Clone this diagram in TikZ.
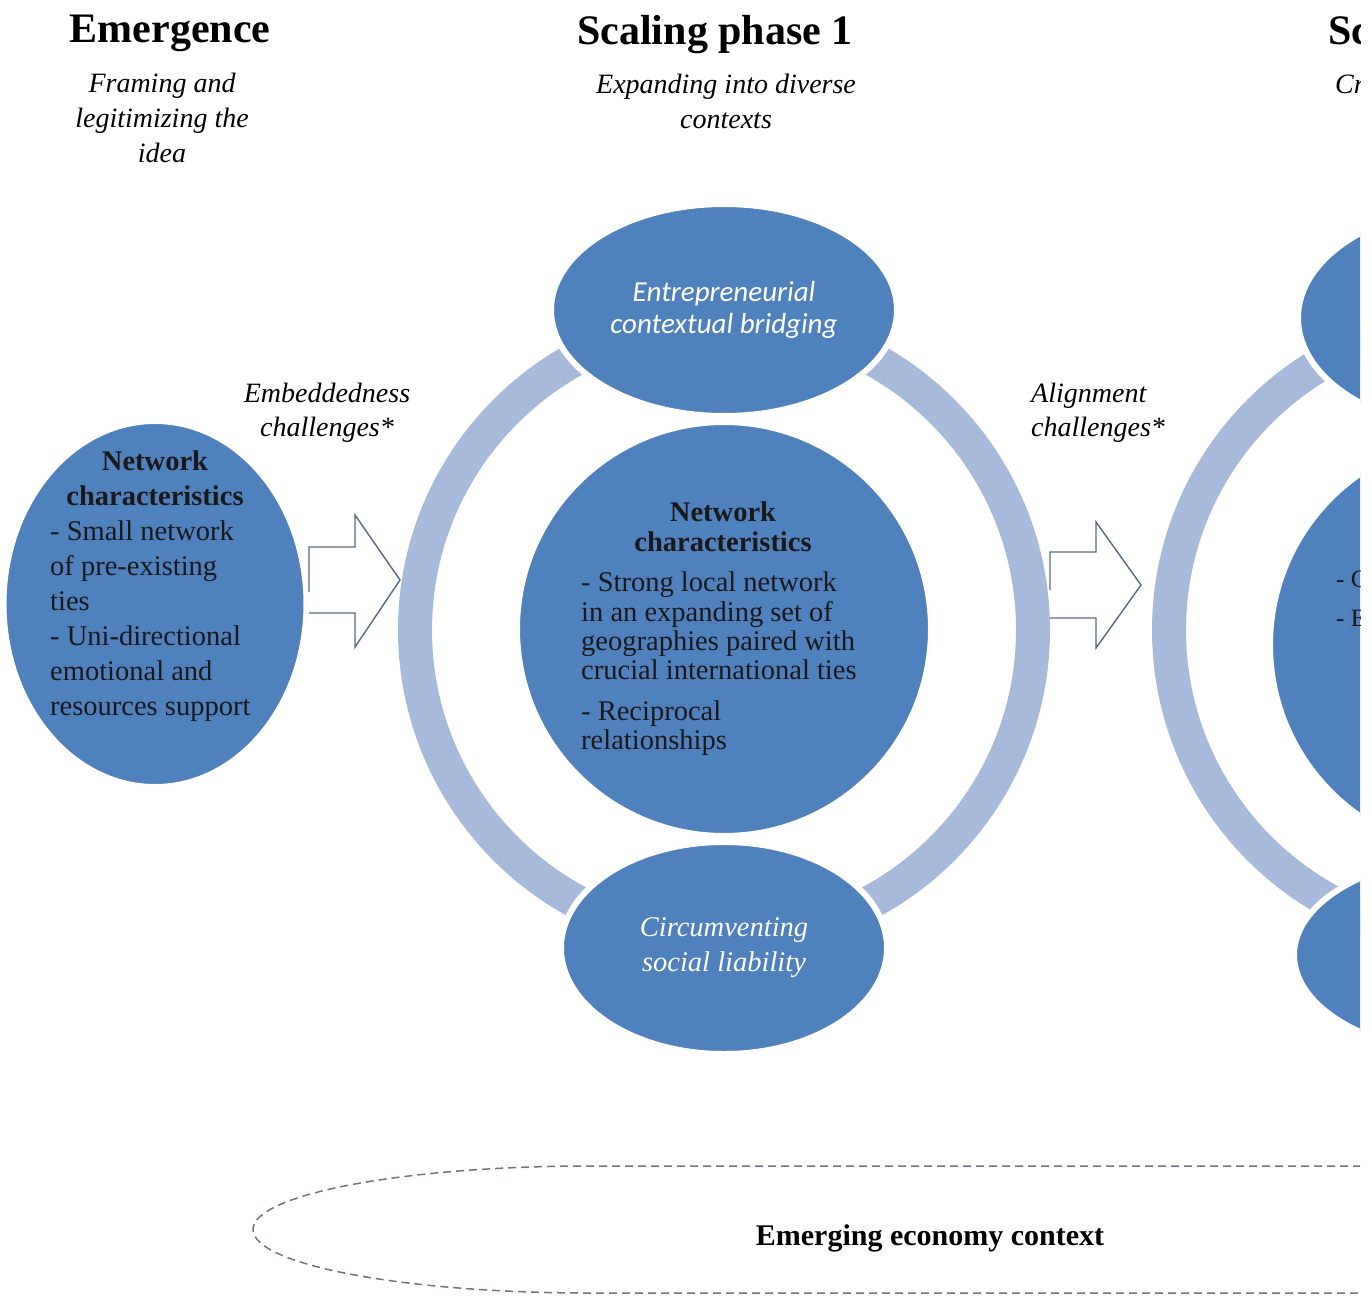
\documentclass[tikz,border=0pt]{standalone}
\usepackage{fontspec}
\setmainfont{Liberation Serif}
\newfontfamily\calibrifont{Carlito}
\usetikzlibrary{shapes.geometric}
\definecolor{stageblue}{RGB}{79,129,189}
\definecolor{ringblue}{RGB}{167,186,219}
\definecolor{arrowline}{RGB}{84,104,136}
\definecolor{dashline}{RGB}{105,118,138}
\definecolor{inktext}{RGB}{25,25,25}
\begin{document}
\begin{tikzpicture}[x=1pt,y=-1pt,
  blob/.style={ellipse, fill=stageblue, draw=white, line width=6pt, inner sep=0pt},
  ringband/.style={circle, draw=ringblue, line width=34pt, minimum size=618pt, inner sep=0pt},
  title/.style={font=\bfseries\fontsize{42}{48}\selectfont, inner sep=0pt, anchor=base},
  subtitle/.style={font=\itshape\fontsize{28}{35}\selectfont, align=center, inner sep=0pt, anchor=north},
  challenge/.style={font=\itshape\fontsize{28}{34}\selectfont, inner sep=0pt, anchor=north},
  head/.style={font=\bfseries\fontsize{28.5}{35}\selectfont, text=inktext, align=center, inner sep=0pt, anchor=north},
  list/.style={text=inktext, align=left, inner sep=0pt, anchor=north west},
  blockarrow/.style={fill=white, draw=arrowline, line width=1.4pt, line join=miter},
]
\useasboundingbox (0,0) rectangle (1372,1298);
\fill[white] (0,0) rectangle (1372,1298);
\begin{scope}
\clip (0,0) rectangle (1360,1298);

% stage titles and subtitles
\node[title] (t0) at (170,42) {Emergence};
\node[title] (t1) at (715,45) {Scaling phase 1};
\node[title, anchor=base west] (t2) at (1328,45) {Sc};
\node[subtitle] (s0) at (162,73) {Framing and\\legitimizing the\\idea};
\node[subtitle] (s1) at (726,74) {Expanding into diverse\\contexts};
\node[subtitle, anchor=north west] (s2) at (1335,75) {Cr};

% transition labels
\node[challenge, align=center] (c1) at (327,383) {Embeddedness\\challenges*};
\node[challenge, align=left, anchor=north west] (c2) at (1031,383) {Alignment\\challenges*};

% rings of the scaling phases
\node[ringband] (ring1) at (724,630) {};
\node[ringband] (ring2) at (1478,630) {};

% emergence stage
\node[blob, minimum width=303, minimum height=366] (net0) at (155,604) {};
\node[head] (h0) at (155,451) {Network\\characteristics};
\node[list, font=\fontsize{28.5}{35}\selectfont] (l0) at (50,521)
  {- Small network\\of pre-existing\\ties\\- Uni-directional\\emotional and\\resources support};

% scaling phase 1
\node[blob, minimum width=346, minimum height=212, text=white,
      font=\calibrifont\itshape\fontsize{29}{32}\selectfont, align=center]
  (bridge1) at (724,310) {Entrepreneurial\\contextual bridging};
\node[blob, minimum width=414, minimum height=414] (net1) at (724,629) {};
\node[blob, minimum width=326, minimum height=212, text=white,
      font=\itshape\fontsize{28.5}{35}\selectfont, align=center]
  (liab1) at (724,948) {Circumventing\\social liability};
\node[head, font=\bfseries\fontsize{28.5}{30}\selectfont] (h1) at (723,502) {Network\\characteristics};
\node[list, font=\fontsize{28.5}{29.3}\selectfont] (l1) at (581,572)
  {- Strong local network\\in an expanding set of\\geographies paired with\\crucial international ties\\[11pt]- Reciprocal\\relationships};

% scaling phase 2
\node[blob, minimum width=366, minimum height=226] (bridge2) at (1481,318) {};
\node[blob, minimum width=416, minimum height=416] (net2) at (1478,645) {};
\node[blob, minimum width=366, minimum height=200] (liab2) at (1477,955) {};
\node[list, font=\fontsize{25}{39}\selectfont] (l2) at (1336,571) {- C\\- E};

% block arrows between stages
\draw[blockarrow] (309,592) -- (309,547) -- (355,547) -- (355,515) -- (400,580)
  -- (355,647) -- (355,613) -- (309,613);
\draw[blockarrow] (1050,590) -- (1050,552) -- (1096,552) -- (1096,522) -- (1141,585)
  -- (1096,648) -- (1096,618) -- (1050,618);

% context boundary
\draw[dashline, line width=1.5pt, dash pattern=on 8pt off 5pt]
  (1400,1166) -- (590,1166) arc[start angle=270, end angle=90, x radius=337, y radius=63.5]
  -- (1400,1293);
\node[font=\bfseries\fontsize{30}{36}\selectfont, inner sep=0pt, anchor=base] (ctx) at (930,1245)
  {Emerging economy context};
\end{scope}
\end{tikzpicture}
\end{document}
